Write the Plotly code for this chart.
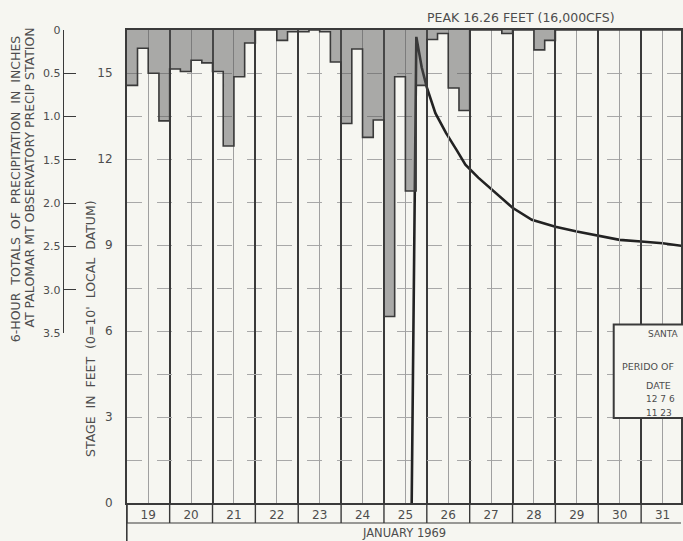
import plotly.graph_objects as go

# ---------------- data ----------------
days = list(range(19, 32))
day_labels = [str(d) for d in days]

# 6-hour precipitation totals (inches) at Palomar Mt, four periods per day (Jan 19 - Jan 31)
precip_19 = [0.64, 0.21, 0.50, 1.05]
precip_20 = [0.45, 0.48, 0.35, 0.38]
precip_21 = [0.48, 1.34, 0.54, 0.15]
precip_22 = [0.00, 0.00, 0.12, 0.02]
precip_23 = [0.02, 0.00, 0.02, 0.37]
precip_24 = [1.08, 0.22, 1.24, 1.04]
precip_25 = [3.31, 0.54, 1.86, 0.64]
precip_26 = [0.11, 0.04, 0.67, 0.93]
precip_27 = [0.00, 0.00, 0.00, 0.04]
precip_28 = [0.00, 0.00, 0.23, 0.12]
precip_29 = [0.0, 0.0, 0.0, 0.0]
precip_30 = [0.0, 0.0, 0.0, 0.0]
precip_31 = [0.0, 0.0, 0.0, 0.0]

precip_ticks = [0, 0.5, 1.0, 1.5, 2.0, 2.5, 3.0, 3.5]
precip_ticktext = ["0", "0.5", "1.0", "1.5", "2.0", "2.5", "3.0", "3.5"]

# stage hydrograph (day of January, stage in feet)
stage_time = [25.647, 25.755, 25.88, 26.0, 26.2, 26.45, 26.7, 26.9, 27.2, 27.5, 27.75,
              28.0, 28.45, 29.0, 29.5, 30.0, 30.5, 31.0, 31.5, 31.95]
stage_ft = [0.0, 16.26, 15.2, 14.5, 13.6, 12.9, 12.3, 11.8, 11.35, 10.95, 10.6,
            10.3, 9.88, 9.64, 9.47, 9.32, 9.18, 9.12, 9.06, 8.97]
stage_ticks = [0, 3, 6, 9, 12, 15]

# ---------------- build ----------------
precip_by_day = [precip_19, precip_20, precip_21, precip_22, precip_23, precip_24, precip_25,
                 precip_26, precip_27, precip_28, precip_29, precip_30, precip_31]
px_start, py_val = [], []
for d, vals in zip(days, precip_by_day):
    for k, v in enumerate(vals):
        px_start.append(d + 0.25 * k)
        py_val.append(v)
px_start.append(days[-1] + 1)
py_val.append(py_val[-1])

W, H = 683, 541
ML, MR, MT, MB = 63, 0, 30, 38
PW, PH = W - ML - MR, H - MT - MB
X0 = (127 - ML) / PW        # x-domain start (pixel 127)


def fx(px):
    return (px - ML) / PW


def fy(py):
    return (H - MB - py) / PH


INK = "#3a3a3a"
TXT = "#4d4d4d"
BG = "#f6f6f1"
FONT = "DejaVu Sans"
NB = "\u00a0"

fig = go.Figure()

fig.add_trace(go.Scatter(
    x=px_start, y=py_val, xaxis="x", yaxis="y2", mode="lines",
    line=dict(shape="hv", color=INK, width=1.6),
    fill="tozeroy", fillcolor="rgba(85,85,85,0.48)", hoverinfo="skip", showlegend=False))

fig.add_trace(go.Scatter(
    x=stage_time, y=stage_ft, xaxis="x", yaxis="y", mode="lines",
    line=dict(color="#222222", width=2.6), showlegend=False))

x_end = 19 + (W - 127) / 43.0

fig.update_layout(
    width=W, height=H, margin=dict(l=ML, r=MR, t=MT, b=MB),
    paper_bgcolor=BG, plot_bgcolor="rgba(0,0,0,0)",
    font=dict(family=FONT, color=TXT, size=11),
    showlegend=False,
    xaxis=dict(
        domain=[X0, 1], range=[19, x_end], showline=True, mirror=True,
        linecolor=INK, linewidth=1.6,
        tickvals=[d + 0.5 for d in days], ticktext=day_labels, ticks="",
        tickfont=dict(size=12, color=TXT),
        showgrid=True, gridcolor="#a0a0a0", gridwidth=1,
        minor=dict(tick0=19, dtick=1, showgrid=True, gridcolor=INK, gridwidth=1.6, ticks=""),
        zeroline=False,
    ),
    yaxis=dict(
        domain=[0, 1], range=[0, 16.5], anchor="x",
        tickvals=stage_ticks, ticks="", ticklabelstandoff=10,
        tickfont=dict(size=12, color=TXT),
        showgrid=True, gridcolor="#a8a8a8", gridwidth=1, griddash="longdash",
        minor=dict(dtick=1.5, tick0=0, showgrid=True, gridcolor="#a8a8a8", gridwidth=1, griddash="longdash"),
        showline=True, linecolor=INK, linewidth=1.6, mirror=True, zeroline=False,
    ),
    yaxis2=dict(
        domain=[fy(333), 1], range=[3.5, 0], anchor="free", position=0, side="left",
        tickvals=precip_ticks, ticktext=precip_ticktext,
        ticks="inside", ticklen=12, tickwidth=1.4, tickcolor=INK,
        tickfont=dict(size=11, color=TXT),
        showline=True, linecolor=INK, linewidth=1.4,
        showgrid=False, zeroline=False,
    ),
)

shapes = []
# label strip beneath the plot
strip_bottom = fy(523)
for d in days + [days[-1] + 1]:
    shapes.append(dict(type="line", xref="x", yref="paper", x0=d, x1=d, y0=strip_bottom, y1=0,
                       line=dict(color=INK, width=1.4)))
shapes.append(dict(type="line", xref="paper", yref="paper", x0=X0, x1=1, y0=strip_bottom, y1=strip_bottom,
                   line=dict(color=INK, width=1.2)))
shapes.append(dict(type="line", xref="paper", yref="paper", x0=X0, x1=X0, y0=fy(545), y1=0,
                   line=dict(color=INK, width=1.6)))
# station info box
shapes.append(dict(type="rect", xref="paper", yref="paper", x0=fx(615.5), x1=fx(700),
                   y0=fy(418), y1=fy(324.5), fillcolor=BG, line=dict(color=INK, width=2)))
fig.update_layout(shapes=shapes)

title1 = "6-HOUR" + NB * 2 + "TOTALS" + NB * 2 + "OF" + NB * 2 + "PRECIPITATION" + NB * 2 + "IN" + NB * 2 + "INCHES"
title2 = "AT PALOMAR MT OBSERVATORY PRECIP STATION"
title3 = "STAGE" + NB * 2 + "IN" + NB * 2 + "FEET" + NB * 2 + "(0=10'" + NB * 2 + "LOCAL" + NB * 2 + "DATUM)"

ann = []
ann.append(dict(text=title1, x=fx(15), y=fy(189), textangle=-90, font=dict(size=12.5, color=TXT)))
ann.append(dict(text=title2, x=fx(28.5), y=fy(178), textangle=-90, font=dict(size=12.5, color=TXT)))
ann.append(dict(text=title3, x=fx(90), y=fy(328), textangle=-90, font=dict(size=12.5, color=TXT)))
ann.append(dict(text="PEAK 16.26 FEET (16,000CFS)", x=fx(522), y=fy(18), font=dict(size=12.5, color=TXT)))
ann.append(dict(text="JANUARY 1969", x=fx(405), y=fy(532.5), font=dict(size=11.5, color=TXT)))
box_lines = [("SANTA", 648, 334, 9), ("PERIDO OF", 621.5, 366, 9.5), ("DATE", 646, 385, 9.5),
             ("12 7 6", 646, 398.5, 9), ("11 23", 646, 413, 9)]
for t, bx, by, fs in box_lines:
    ann.append(dict(text=t, x=fx(bx), y=fy(by), xanchor="left", font=dict(size=fs, color=TXT)))
for a in ann:
    a.setdefault("xref", "paper")
    a.setdefault("yref", "paper")
    a.setdefault("showarrow", False)
    a.setdefault("xanchor", "center")
    a.setdefault("yanchor", "middle")
fig.update_layout(annotations=ann)

fig.write_html("out.html", config={"displayModeBar": False},
               post_script="document.body.style.margin='0';")
